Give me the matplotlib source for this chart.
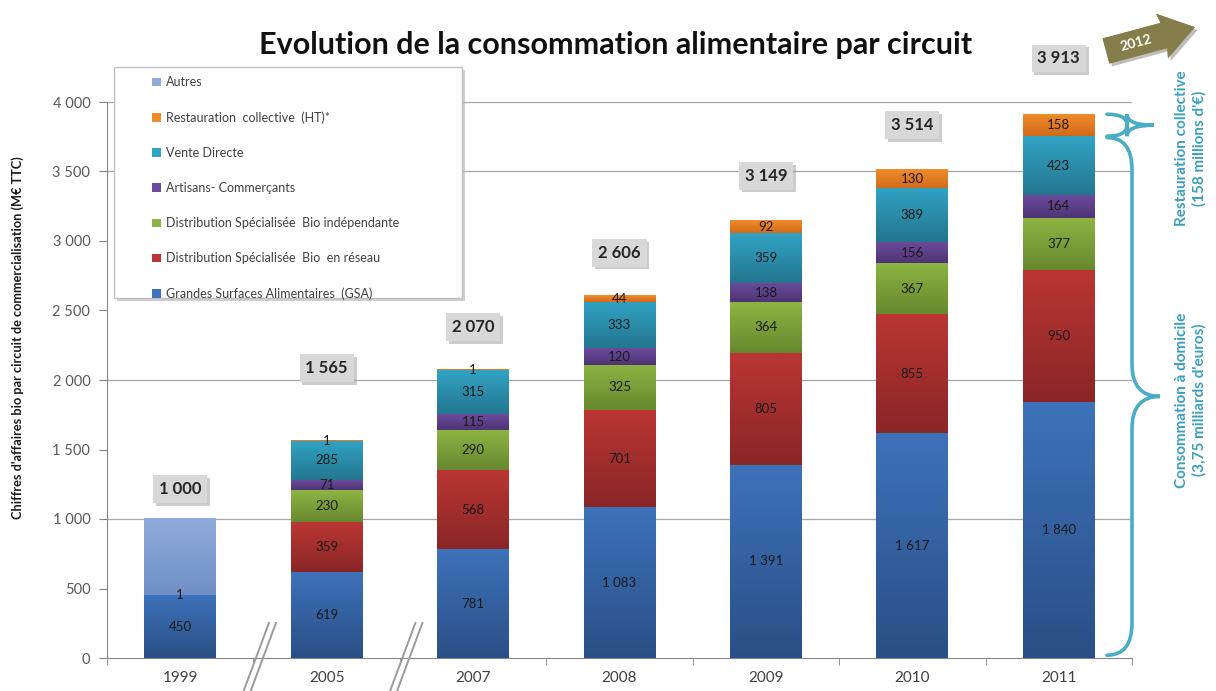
import numpy as np
import matplotlib
matplotlib.use('Agg')
import matplotlib.pyplot as plt
from matplotlib import transforms
from matplotlib.path import Path
from matplotlib.patches import PathPatch, Polygon, Rectangle
from matplotlib.colors import to_rgb
import matplotlib.patheffects as pe

plt.rcParams['font.family'] = ['Lato', 'DejaVu Sans']

# --- data (M€ TTC) ---
years = ['1999', '2005', '2007', '2008', '2009', '2010', '2011']
series_names = [
    'Grandes Surfaces Alimentaires  (GSA)',
    'Distribution Spécialisée  Bio  en réseau',
    'Distribution Spécialisée  Bio indépendante',
    'Artisans- Commerçants',
    'Vente Directe',
    'Restauration  collective  (HT)*',
    'Autres',
]
gsa = [450, 619, 781, 1083, 1391, 1617, 1840]
reseau = [0, 359, 568, 701, 805, 855, 950]
independant = [0, 230, 290, 325, 364, 367, 377]
artisans = [0, 71, 115, 120, 138, 156, 164]
vente_directe = [0, 285, 315, 333, 359, 389, 423]
restauration = [1, 1, 1, 44, 92, 130, 158]
autres = [549, 0, 0, 0, 0, 0, 0]
totals = [1000, 1565, 2070, 2606, 3149, 3514, 3913]

series = [gsa, reseau, independant, artisans, vente_directe, restauration, autres]

# top / bottom colour of each segment's shading
shades = [
    ('#3d72ba', '#2a4f86'),
    ('#ba3634', '#8a2626'),
    ('#8db443', '#68882f'),
    ('#6b4b9c', '#4e3474'),
    ('#31a3c4', '#24768f'),
    ('#f08c2c', '#d26a18'),
    ('#8fabd9', '#6f8fc6'),
]
# vertical room between a bar top and its total box, in M€
total_gap = [215, 520, 310, 310, 320, 320, 400]

W, H = 1216, 691
fig = plt.figure(figsize=(W / 100, H / 100), dpi=100)
ax = fig.add_axes([107 / W, 33 / H, 1025 / W, 556 / H])

# pixel coordinates measured from the top-left corner of the figure
px = transforms.Affine2D().scale(1 / W, -1 / H).translate(0, 1) + fig.transFigure


def fmt(v):
    return f'{v:,}'.replace(',', ' ')


def shade(x0, x1, y0, y1, top, bottom):
    t = np.linspace(0, 1, 64)[:, None]
    c = (1 - t) * np.array(to_rgb(top)) + t * np.array(to_rgb(bottom))
    ax.imshow(c[:, None, :], extent=(x0, x1, y0, y1), aspect='auto',
              interpolation='bilinear', zorder=3)


x = np.arange(len(years))
width = 0.49
bottom = np.zeros(len(years))
handles = []
for k, (vals, name, (top_c, bot_c)) in enumerate(zip(series, series_names, shades)):
    vals = np.array(vals, dtype=float)
    bars = ax.bar(x, vals, width, bottom=bottom, color=top_c, zorder=2, label=name)
    handles.append(bars)
    for i, v in enumerate(vals):
        if v <= 0:
            continue
        shade(x[i] - width / 2, x[i] + width / 2, bottom[i], bottom[i] + v, top_c, bot_c)
        if name != 'Autres':
            ax.text(x[i], bottom[i] + v / 2, fmt(int(v)), ha='center', va='center',
                    fontsize=9.5, color='#1a1a1a', zorder=5)
    bottom += vals

# total of each year in a grey box
for i, tot in enumerate(totals):
    t = ax.text(x[i], tot + total_gap[i], fmt(tot), ha='center', va='center',
                fontsize=12, fontweight='bold', color='#262626', zorder=6, clip_on=False,
                bbox=dict(boxstyle='square,pad=0.35', fc='#d8d8d8', ec='none'))
    t.get_bbox_patch().set_path_effects(
        [pe.withSimplePatchShadow(offset=(2, -2), shadow_rgbFace='#9a9a9a', alpha=0.5),
         pe.Normal()])

ax.set_xlim(-0.5, len(years) - 0.5)
ax.set_ylim(0, 4000)

for g in [1000, 2000, 3500, 4000]:
    ax.axhline(g, color='#a6a6a6', lw=0.9, zorder=0.5)

ax.set_yticks(np.arange(0, 4001, 500))
ax.set_yticklabels([fmt(v) for v in range(0, 4001, 500)])
ax.set_xticks(x)
ax.set_xticklabels(years)
ax.set_xticks(np.arange(-0.5, len(years), 1), minor=True)
ax.tick_params(axis='y', direction='out', length=6, color='#868686', labelsize=10.5,
               labelcolor='#595959', pad=6)
ax.tick_params(axis='x', which='major', length=0, labelsize=11, labelcolor='#404040', pad=9)
ax.tick_params(axis='x', which='minor', direction='out', length=5, color='#868686')
for s in ['top', 'right']:
    ax.spines[s].set_visible(False)
for s in ['left', 'bottom']:
    ax.spines[s].set_color('#868686')

# axis break marks between the non-consecutive years
brk = transforms.blended_transform_factory(ax.transData, ax.transAxes)
for xb in [0.5, 1.5]:
    for dx0, dx1 in [(-0.065, 0.106), (-0.017, 0.154)]:
        ax.plot([xb + dx0, xb + dx1], [-0.058, 0.063], color='#9a9a9a', lw=1.4,
                transform=brk, clip_on=False, zorder=6)

fig.text(616 / W, 1 - 45 / H, 'Evolution de la consommation alimentaire par circuit',
         ha='center', va='center', fontsize=22, fontweight='bold', color='#111111')
fig.text(18 / W, 1 - 338 / H,
         "Chiffres d'affaires bio par circuit de commercialisation (M€ TTC)",
         rotation=90, ha='center', va='center', fontsize=9.2, fontweight='bold',
         color='#1a1a1a')

# legend in its own framed box
box_shadow = Rectangle((117, 301), 348, -231, transform=px, fc='#b0b0b0', ec='none',
                       alpha=0.6, zorder=7)
box = Rectangle((114, 298), 348, -231, transform=px, fc='white', ec='#bfbfbf',
                lw=1, zorder=8)
fig.add_artist(box_shadow)
fig.add_artist(box)
leg = fig.legend(handles[::-1], series_names[::-1], loc='upper left',
                 bbox_to_anchor=(146 / W, 1 - 70 / H), frameon=False, fontsize=9,
                 handlelength=0.7, handleheight=0.7, handletextpad=0.4,
                 labelspacing=1.85, borderpad=0)
leg.set_zorder(9)
for txt in leg.get_texts():
    txt.set_color('#404040')

# braces on the right of the 2011 bar
brace_y = transforms.blended_transform_factory(
    transforms.Affine2D().scale(1 / W, 1) + fig.transFigure, ax.transData)


def brace(x_end, x_spine, x_tip, y_bot, y_top, r):
    y_mid = (y_bot + y_top) / 2
    verts = [(x_end, y_top), (x_spine, y_top), (x_spine, y_top - r),
             (x_spine, y_mid + r), (x_spine, y_mid), (x_tip, y_mid),
             (x_spine, y_mid), (x_spine, y_mid - r),
             (x_spine, y_bot + r), (x_spine, y_bot), (x_end, y_bot)]
    codes = [Path.MOVETO, Path.CURVE3, Path.CURVE3,
             Path.LINETO, Path.CURVE3, Path.CURVE3,
             Path.CURVE3, Path.CURVE3,
             Path.LINETO, Path.CURVE3, Path.CURVE3]
    fig.add_artist(PathPatch(Path(verts, codes), transform=brace_y, fc='none',
                             ec='#4bacc6', lw=2.6, capstyle='round', zorder=6))


home = sum(s[-1] for s in series[:5])
brace(1107, 1127, 1154, home, home + restauration[-1], restauration[-1] / 2)
brace(1107, 1132, 1160, 20, home - 10, 230)

fig.text(1191 / W, 1 - 148 / H, "Restauration collective\n(158 millions d'€)",
         rotation=90, ha='center', va='center', multialignment='center',
         fontsize=11, fontweight='bold', color='#3b9fbd', linespacing=1.3)
fig.text(1191 / W, 1 - 400 / H, "Consommation à domicile\n(3,75 milliards d'euros)",
         rotation=90, ha='center', va='center', multialignment='center',
         fontsize=11, fontweight='bold', color='#3b9fbd', linespacing=1.3)

# "2012" arrow
up = transforms.Affine2D().scale(1 / W, 1 / H) + fig.transFigure
arrow_rot = transforms.Affine2D().rotate_deg(15).translate(1106, H - 51)
arrow_pts = [(0, -13), (60, -13), (58, -23), (92, 0), (58, 23), (60, 13), (0, 13)]
fig.add_artist(Polygon(arrow_pts, closed=True, transform=arrow_rot + up,
                       fc='#857e4b', ec='none', zorder=6,
                       path_effects=[pe.withSimplePatchShadow(offset=(2, -2), alpha=0.3),
                                     pe.Normal()]))
fig.text(1136 / W, 1 - 43 / H, '2012', rotation=15, ha='center', va='center',
         fontsize=10, fontweight='bold', color='white', zorder=7)

fig.savefig('out.png', dpi=100)
